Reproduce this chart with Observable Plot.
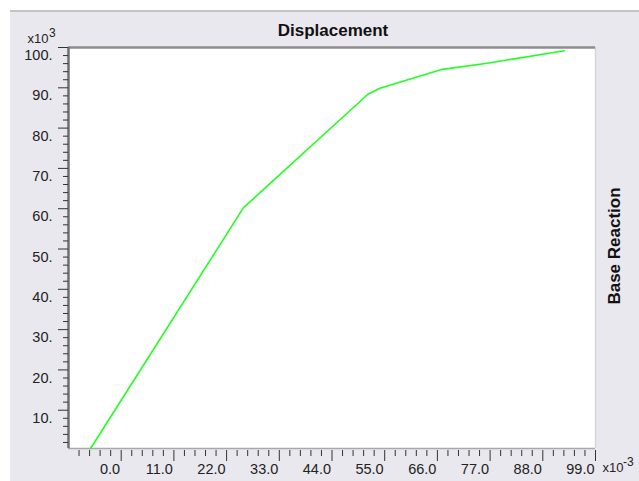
<!DOCTYPE html>
<html>
<head>
<meta charset="utf-8">
<script src="https://cdn.jsdelivr.net/npm/d3@7"></script>
<script src="https://cdn.jsdelivr.net/npm/@observablehq/plot@0.6"></script>
<style>
  html, body { margin: 0; padding: 0; background: #ffffff; }
  #wrap { position: relative; width: 639px; height: 481px; overflow: hidden; }
  #panel { position: absolute; left: 10px; top: 10px; right: 0; bottom: 0; background: #e9e8ee; border-top: 2px solid #c4c4c4; }
  #chart { position: absolute; left: 0; top: 0; }
</style>
</head>
<body>
<div id="wrap"><div id="panel"></div><div id="chart"></div></div>
<script>
// Pushover curve: displacement (x10^-3) vs base reaction (x10^3)
const displacement = [-6.4, 25.5, 51.5, 54.0, 66.7, 76.4, 92.5];
const baseReaction = [0.5, 60.2, 88.4, 89.9, 94.5, 96.1, 99.2];

const xTickValues = [0, 11, 22, 33, 44, 55, 66, 77, 88, 99];
const xTickLabels = ["0.0", "11.0", "22.0", "33.0", "44.0", "55.0", "66.0", "77.0", "88.0", "99.0"];
const yTickValues = [10, 20, 30, 40, 50, 60, 70, 80, 90, 100];
const yTickLabels = ["10.", "20.", "30.", "40.", "50.", "60.", "70.", "80.", "90.", "100."];

const xDomain = [-11, 99];
const yDomain = [0.5, 100];

// minor ticks: five subdivisions per major step
const xMinor = d3.range(-4, 45).filter(i => i % 5 !== 0).map(i => i * 2.2);
const yMinor = d3.range(1, 50).filter(i => i % 5 !== 0).map(i => i * 2);

const curve = displacement.map((d, i) => ({x: d, y: baseReaction[i]}));
const xTicks = xTickValues.map((v, i) => ({v, label: xTickLabels[i]}));
const yTicks = yTickValues.map((v, i) => ({v, label: yTickLabels[i]}));

const tickFont = "Arial, 'Liberation Sans', sans-serif";
const boldFont = "Arial, 'Liberation Sans', sans-serif";

const chart = Plot.plot({
  width: 639,
  height: 481,
  marginLeft: 68,
  marginRight: 44,
  marginTop: 47,
  marginBottom: 33,
  style: "background: transparent; overflow: visible;",
  x: {domain: xDomain, axis: null},
  y: {domain: yDomain, axis: null},
  marks: [
    Plot.frame({fill: "white", stroke: null}),
    // frame borders
    Plot.ruleX([xDomain[1]], {stroke: "#d6d6d6", strokeWidth: 1.5}),
    Plot.ruleY([yDomain[0]], {stroke: "#a8a8a8", strokeWidth: 1.5}),
    Plot.ruleY([yDomain[1]], {stroke: "#8c8c8c", strokeWidth: 2.5}),
    Plot.ruleX([xDomain[0]], {stroke: "#6e6e6e", strokeWidth: 2.5}),
    // y ticks
    Plot.axisY({ticks: yTickValues, anchor: "left", tickSize: 10, tickFormat: () => "", stroke: "#333", label: null}),
    Plot.axisY({ticks: yMinor, anchor: "left", tickSize: 5, tickFormat: () => "", stroke: "#333", label: null}),
    // x ticks
    Plot.axisX({ticks: xTickValues, anchor: "bottom", tickSize: 11, tickFormat: () => "", stroke: "#333", label: null, dy: 2}),
    Plot.axisX({ticks: xMinor, anchor: "bottom", tickSize: 6, tickFormat: () => "", stroke: "#333", label: null, dy: 2}),
    // tick labels
    Plot.text(yTicks, {y: "v", text: "label", frameAnchor: "left", textAnchor: "end", lineAnchor: "middle",
      dx: -16, dy: 8, fontFamily: tickFont, fontSize: 14.5, fill: "#222"}),
    Plot.text(xTicks, {x: "v", text: "label", frameAnchor: "bottom", textAnchor: "end", lineAnchor: "middle",
      dx: -1, dy: 21, fontFamily: tickFont, fontSize: 14.5, fill: "#222"}),
    // scale multipliers
    Plot.text(["x10"], {frameAnchor: "top-left", textAnchor: "start", lineAnchor: "middle", dx: -41, dy: -9,
      fontFamily: tickFont, fontSize: 13, fill: "#222"}),
    Plot.text(["3"], {frameAnchor: "top-left", textAnchor: "start", lineAnchor: "middle", dx: -19.5, dy: -14.5,
      fontFamily: tickFont, fontSize: 12, fill: "#222"}),
    Plot.text(["x10"], {frameAnchor: "bottom-right", textAnchor: "start", lineAnchor: "middle", dx: 7, dy: 19.5,
      fontFamily: tickFont, fontSize: 13, fill: "#222"}),
    Plot.text(["-3"], {frameAnchor: "bottom-right", textAnchor: "start", lineAnchor: "middle", dx: 27.5, dy: 14,
      fontFamily: tickFont, fontSize: 12, fill: "#222"}),
    // titles
    Plot.text(["Displacement"], {frameAnchor: "top", textAnchor: "middle", lineAnchor: "middle", dx: 1, dy: -17,
      fontFamily: boldFont, fontWeight: "bold", fontSize: 17, fill: "#111"}),
    Plot.text(["Base Reaction"], {frameAnchor: "right", textAnchor: "middle", lineAnchor: "middle", dx: 19, dy: -2,
      rotate: -90, fontFamily: boldFont, fontWeight: "bold", fontSize: 17, fill: "#111"}),
    // curve
    Plot.line(curve, {x: "x", y: "y", stroke: "#22ff22", strokeWidth: 1.6})
  ]
});
document.getElementById("chart").appendChild(chart);
</script>
</body>
</html>
